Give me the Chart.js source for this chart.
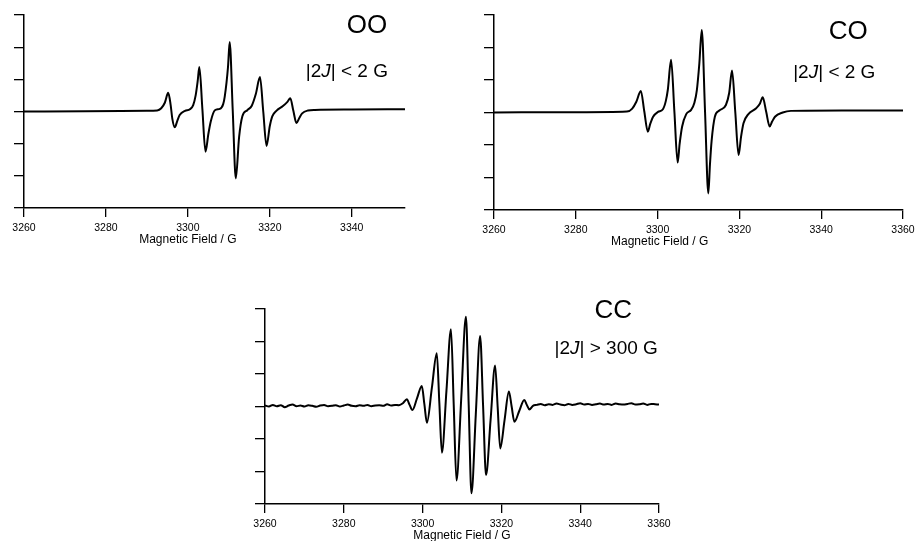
<!DOCTYPE html>
<html>
<head>
<meta charset="utf-8">
<script src="https://cdn.jsdelivr.net/npm/chart.js@4.4.1/dist/chart.umd.min.js"></script>
<style>
  body { margin: 0; background: #fff; }
  #wrap { position: relative; width: 916px; height: 541px; overflow: hidden; background: #fff; }
  canvas { position: absolute; }
</style>
</head>
<body>
<div id="wrap">
  <canvas id="ooChart" width="430" height="250" style="left:0px;top:0px"></canvas>
  <canvas id="coChart" width="446" height="250" style="left:470px;top:0px"></canvas>
  <canvas id="ccChart" width="440" height="251" style="left:241px;top:290px"></canvas>
</div>
<script>
// field ticks (G) and the unlabelled intensity ticks
const fieldTicks = [3260, 3280, 3300, 3320, 3340, 3360];
const intensityTicks = [-3, -2, -1, 0, 1, 2, 3];

// OO biradical, |2J| < 2 G
const ooField = [
  3260, 3275, 3290, 3292.5, 3293.5, 3294.4, 3295.2, 3295.8, 3296.2, 3296.8,
  3297.4, 3298.0, 3299.3, 3300.5, 3301.3, 3301.9, 3302.4, 3302.8, 3303.55, 3304.3,
  3305.0, 3305.6, 3306.6, 3307.8, 3308.6, 3309.0, 3309.8, 3310.2, 3310.95, 3311.7,
  3312.5, 3313.3, 3314.5, 3315.6, 3316.6, 3317.6, 3318.4, 3319.2, 3320.0, 3320.6,
  3321.6, 3323.2, 3324.3, 3325.0, 3325.75, 3326.5, 3327.2, 3327.9, 3329.3, 3331,
  3340, 3353
];
const ooSignal = [
  0.00, 0.01, 0.02, 0.03, 0.10, 0.28, 0.58, 0.20, -0.22, -0.49,
  -0.30, -0.11, 0.02, 0.07, 0.20, 0.50, 0.95, 1.38, 0.06, -1.25,
  -0.70, -0.30, 0.04, 0.08, 0.22, 0.46, 1.39, 2.16, 0.04, -2.08,
  -0.80, -0.15, 0.04, 0.18, 0.55, 1.07, 0.00, -1.07, -0.45, -0.15,
  0.02, 0.17, 0.30, 0.41, 0.02, -0.36, -0.20, -0.06, 0.03, 0.05,
  0.06, 0.07
];

// CO biradical, |2J| < 2 G
const coField = [
  3260, 3280, 3292.5, 3293.8, 3294.8, 3295.9, 3296.75, 3297.6, 3298.2, 3298.9,
  3300.1, 3301.3, 3302.0, 3302.5, 3303.3, 3304.1, 3304.9, 3305.4, 3306.0, 3307.0,
  3308.2, 3309.0, 3309.6, 3310.2, 3310.8, 3311.6, 3312.4, 3312.8, 3313.2, 3314.0,
  3315.1, 3316.7, 3317.5, 3318.2, 3319.0, 3319.8, 3320.4, 3321.0, 3322.2, 3324.1,
  3325.0, 3325.7, 3326.55, 3327.4, 3328.0, 3328.7, 3330.6, 3332.6, 3345, 3360
];
const coSignal = [
  0.00, 0.01, 0.03, 0.12, 0.33, 0.66, 0.03, -0.59, -0.35, -0.13,
  0.02, 0.10, 0.35, 0.70, 1.62, 0.04, -1.54, -0.95, -0.43, -0.05,
  0.08, 0.30, 0.69, 1.50, 2.54, 0.02, -2.49, -1.60, -0.88, -0.13,
  0.06, 0.23, 0.60, 1.29, 0.00, -1.31, -0.75, -0.33, -0.05, 0.13,
  0.27, 0.47, 0.02, -0.43, -0.28, -0.13, 0.00, 0.05, 0.06, 0.06
];

// CC biradical, |2J| > 300 G (noisy baseline on both sides)
const ccField = [
  3260, 3261, 3262, 3263, 3264, 3265, 3266, 3267, 3268, 3269,
  3270, 3271, 3272, 3273, 3274, 3275, 3276, 3277, 3278, 3279,
  3280, 3281, 3282, 3283, 3284, 3285, 3286, 3287, 3288, 3289,
  3290, 3291, 3292, 3293, 3294,
  3295.0, 3296.0, 3296.7, 3297.4, 3298.6, 3299.8, 3300.45, 3301.1, 3302.35, 3303.6,
  3304.25, 3304.9, 3306.05, 3307.2, 3307.9, 3308.6, 3309.8, 3311.0, 3311.7, 3312.4,
  3313.5, 3314.6, 3315.35, 3316.1, 3317.25, 3318.4, 3319.05, 3319.7, 3320.8, 3321.9,
  3322.6, 3323.3, 3324.55, 3325.8, 3326.45, 3327.1,
  3328, 3329, 3330, 3331, 3332, 3333, 3334, 3335, 3336, 3337,
  3338, 3339, 3340, 3341, 3342, 3343, 3344, 3345, 3346, 3347,
  3348, 3349, 3350, 3351, 3352, 3353, 3354, 3355, 3356, 3357,
  3358, 3359, 3360
];
const ccSignal = [
  0.03, 0.00, 0.05, 0.01, 0.04, -0.02, 0.03, 0.06, 0.01, 0.03,
  0.00, 0.04, 0.02, -0.01, 0.03, 0.05, 0.01, 0.02, 0.04, 0.00,
  0.03, 0.06, 0.02, 0.01, 0.04, 0.02, 0.05, 0.01, 0.03, 0.04,
  0.02, 0.07, 0.03, 0.05, 0.04,
  0.10, 0.22, 0.05, -0.11, 0.26, 0.63, 0.07, -0.50, 0.57, 1.64,
  0.11, -1.42, 0.48, 2.38, 0.05, -2.28, 0.24, 2.76, 0.05, -2.67,
  -0.25, 2.17, 0.03, -2.11, -0.42, 1.26, -0.01, -1.29, -0.42, 0.46,
  0.00, -0.47, -0.13, 0.20, 0.05, -0.09,
  0.02, 0.05, 0.08, 0.04, 0.07, 0.05, 0.09, 0.06, 0.04, 0.08,
  0.05, 0.07, 0.10, 0.06, 0.08, 0.05, 0.07, 0.09, 0.06, 0.08,
  0.05, 0.09, 0.07, 0.06, 0.08, 0.10, 0.06, 0.07, 0.09, 0.05,
  0.08, 0.07, 0.06
];

const FONT = "'Liberation Sans', Arial, Helvetica, sans-serif";
Chart.defaults.font.family = FONT;
Chart.defaults.color = '#000';

// draws the panel label, the coupling note and the field axis title
const panelText = {
  id: 'panelText',
  afterDraw(chart, args, opts) {
    const { ctx } = chart;
    const xs = chart.scales.x, ys = chart.scales.y;
    ctx.save();
    ctx.fillStyle = '#000';
    ctx.textBaseline = 'middle';
    ctx.textAlign = 'left';
    (opts.items || []).forEach(item => {
      let total = 0;
      item.runs.forEach(r => {
        ctx.font = r.font;
        r.w = ctx.measureText(r.text).width;
        total += r.w;
      });
      let px = xs.getPixelForValue(item.x) - total / 2;
      const py = ys.getPixelForValue(item.y);
      item.runs.forEach(r => {
        ctx.font = r.font;
        ctx.fillText(r.text, px, py);
        px += r.w;
      });
    });
    if (opts.title) {
      ctx.font = '12px ' + FONT;
      ctx.textAlign = 'center';
      ctx.fillText('Magnetic Field / G', xs.getPixelForValue(opts.title.at), opts.title.top);
    }
    ctx.restore();
  }
};

function couplingRuns(rest) {
  const f = '19px ' + FONT;
  return [
    { text: '|2', font: f },
    { text: 'J', font: 'italic ' + f },
    { text: rest, font: f }
  ];
}

function makePanel(id, field, signal, cfg) {
  new Chart(document.getElementById(id), {
    type: 'line',
    data: {
      datasets: [{
        data: field.map((g, i) => ({ x: g, y: signal[i] })),
        borderColor: '#000',
        borderWidth: 2,
        pointRadius: 0,
        cubicInterpolationMode: 'monotone',
        fill: false
      }]
    },
    plugins: [panelText],
    options: {
      responsive: false,
      animation: false,
      devicePixelRatio: 1,
      layout: { padding: cfg.padding },
      plugins: {
        legend: { display: false },
        tooltip: { enabled: false },
        panelText: {
          items: [
            { x: cfg.nameAt[0], y: cfg.nameAt[1], runs: [{ text: cfg.name, font: '26px ' + FONT }] },
            { x: cfg.noteAt[0], y: cfg.noteAt[1], runs: couplingRuns(cfg.note) }
          ],
          title: cfg.title
        }
      },
      scales: {
        x: {
          type: 'linear',
          min: 3260,
          max: cfg.xMax,
          afterBuildTicks: s => { s.ticks = fieldTicks.filter(v => v <= cfg.xMax).map(v => ({ value: v })); },
          afterFit: s => { s.height = cfg.xHeight; s.paddingLeft = 0; s.paddingRight = 0; },
          ticks: {
            callback: v => String(v),
            font: { size: 10.5 },
            color: '#000',
            padding: 5,
            maxRotation: 0,
            autoSkip: false
          },
          grid: { drawOnChartArea: false, drawTicks: true, tickLength: 9, color: '#000', lineWidth: 1.3 },
          border: { display: true, color: '#000', width: 1.5 }
        },
        y: {
          min: -3,
          max: 3,
          afterBuildTicks: s => { s.ticks = intensityTicks.map(v => ({ value: v })); },
          afterFit: s => { s.width = 24; s.paddingTop = 0; s.paddingBottom = 0; },
          ticks: { display: false },
          grid: { drawOnChartArea: false, drawTicks: true, tickLength: 10, color: '#000', lineWidth: 1.3 },
          border: { display: true, color: '#000', width: 1.5 }
        }
      }
    }
  });
}

makePanel('ooChart', ooField, ooSignal, {
  xMax: 3353, xHeight: 42,
  padding: { left: 0, top: 15, right: 25, bottom: 0 },
  name: 'OO', nameAt: [3343.7, 2.66],
  note: '| < 2 G', noteAt: [3338.8, 1.23],
  title: { at: 3300, top: 240 }
});

makePanel('coChart', coField, coSignal, {
  xMax: 3360, xHeight: 40,
  padding: { left: 0, top: 15, right: 13, bottom: 0 },
  name: 'CO', nameAt: [3346.6, 2.48],
  note: '| < 2 G', noteAt: [3343.2, 1.22],
  title: { at: 3300.5, top: 242 }
});

makePanel('ccChart', ccField, ccSignal, {
  xMax: 3360, xHeight: 37,
  padding: { left: 0, top: 19, right: 22, bottom: 0 },
  name: 'CC', nameAt: [3348.4, 2.93],
  note: '| > 300 G', noteAt: [3346.6, 1.77],
  title: { at: 3310, top: 246 }
});
</script>
</body>
</html>
